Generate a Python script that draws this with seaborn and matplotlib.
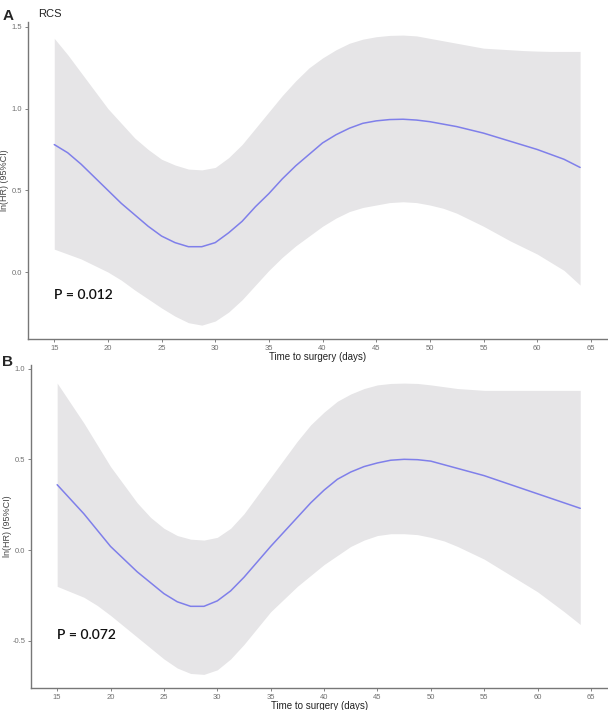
import numpy as np
import pandas as pd
import seaborn as sns
import matplotlib.pyplot as plt

# days, fitted ln(HR) and the 95% CI band
days = [15, 16.25, 17.5, 18.75, 20, 21.25, 22.5, 23.75, 25, 26.25, 27.5, 28.75, 30, 31.25,
        32.5, 33.75, 35, 36.25, 37.5, 38.75, 40, 41.25, 42.5, 43.75, 45, 46.25, 47.5, 48.75,
        50, 51.25, 52.5, 53.75, 55, 56.25, 57.5, 58.75, 60, 61.25, 62.5, 64]

# panel A
a_fit = [0.78, 0.73, 0.66, 0.58, 0.50, 0.42, 0.35, 0.28, 0.22, 0.18, 0.155, 0.155, 0.18, 0.24,
         0.31, 0.40, 0.48, 0.57, 0.65, 0.72, 0.79, 0.84, 0.88, 0.91, 0.925, 0.933, 0.935, 0.93,
         0.92, 0.905, 0.89, 0.87, 0.85, 0.825, 0.80, 0.775, 0.75, 0.72, 0.69, 0.64]
a_upper = [1.43, 1.33, 1.22, 1.11, 1.00, 0.91, 0.82, 0.75, 0.69, 0.655, 0.63, 0.625, 0.64, 0.70,
           0.78, 0.88, 0.98, 1.08, 1.17, 1.25, 1.31, 1.36, 1.40, 1.425, 1.44, 1.448, 1.45, 1.445,
           1.43, 1.415, 1.40, 1.385, 1.37, 1.365, 1.36, 1.355, 1.352, 1.35, 1.35, 1.35]
a_lower = [0.14, 0.11, 0.08, 0.04, 0.00, -0.05, -0.11, -0.165, -0.22, -0.27, -0.31, -0.325, -0.30, -0.245,
           -0.17, -0.08, 0.01, 0.09, 0.16, 0.22, 0.28, 0.33, 0.37, 0.395, 0.41, 0.425, 0.43, 0.425,
           0.41, 0.39, 0.36, 0.32, 0.28, 0.235, 0.19, 0.15, 0.11, 0.06, 0.01, -0.08]

# panel B
b_fit = [0.36, 0.28, 0.20, 0.11, 0.02, -0.05, -0.12, -0.18, -0.24, -0.285, -0.31, -0.31, -0.28, -0.225,
         -0.15, -0.065, 0.02, 0.10, 0.18, 0.26, 0.33, 0.39, 0.43, 0.46, 0.48, 0.495, 0.50, 0.498,
         0.49, 0.47, 0.45, 0.43, 0.41, 0.385, 0.36, 0.335, 0.31, 0.285, 0.26, 0.23]
b_upper = [0.92, 0.81, 0.70, 0.58, 0.46, 0.36, 0.26, 0.18, 0.12, 0.08, 0.06, 0.055, 0.07, 0.12,
           0.20, 0.30, 0.40, 0.50, 0.60, 0.69, 0.76, 0.82, 0.86, 0.89, 0.91, 0.918, 0.92, 0.918,
           0.91, 0.90, 0.89, 0.885, 0.88, 0.88, 0.88, 0.88, 0.88, 0.88, 0.88, 0.88]
b_lower = [-0.20, -0.23, -0.26, -0.305, -0.36, -0.42, -0.48, -0.54, -0.60, -0.65, -0.68, -0.685, -0.66, -0.60,
           -0.52, -0.43, -0.34, -0.27, -0.20, -0.14, -0.08, -0.03, 0.02, 0.055, 0.08, 0.09, 0.09, 0.085,
           0.07, 0.05, 0.02, -0.015, -0.05, -0.095, -0.14, -0.185, -0.23, -0.285, -0.34, -0.41]

x_ticks = [15, 20, 25, 30, 35, 40, 45, 50, 55, 60, 65]
a_yticks = [0.0, 0.5, 1.0, 1.5]
b_yticks = [-0.5, 0.0, 0.5, 1.0]
p_labels = ["P = 0.012", "P = 0.072"]

sns.set_style("ticks")
plt.rcParams['font.family'] = ['Liberation Sans', 'DejaVu Sans']

fig = plt.figure(figsize=(6.08, 7.10), dpi=100)
ax_a = fig.add_axes([0.046, 0.5225, 0.954, 0.4465])
ax_b = fig.add_axes([0.051, 0.031, 0.949, 0.455])

panels = [
    (ax_a, a_fit, a_upper, a_lower, a_yticks, (-0.41, 1.53), -0.14),
    (ax_b, b_fit, b_upper, b_lower, b_yticks, (-0.76, 1.02), -0.47),
]

for i, (ax, fit, up, lo, yt, ylim, p_y) in enumerate(panels):
    df = pd.DataFrame({'day': days, 'fit': fit, 'upper': up, 'lower': lo})
    ax.fill_between(df['day'], df['lower'], df['upper'], color='#e6e5e7', linewidth=0)
    sns.lineplot(data=df, x='day', y='fit', ax=ax, color='#7f7fea', linewidth=1.1)
    ax.set_xlim(12.55, 66.6)
    ax.set_ylim(*ylim)
    ax.set_xticks(x_ticks)
    ax.set_yticks(yt)
    ax.set_yticklabels([f"{v:.1f}" for v in yt])
    ax.tick_params(labelsize=5.5, colors='#6e6e6e', length=2.5, width=0.6, pad=1.5)
    ax.tick_params(labelcolor='#707070')
    for s in ['left', 'bottom']:
        ax.spines[s].set_color('#777777')
        ax.spines[s].set_linewidth(1.0)
    sns.despine(ax=ax)
    ax.set_xlabel('Time to surgery (days)', fontsize=7, color='#222222', labelpad=0)
    ax.set_ylabel('ln(HR) (95%CI)', fontsize=6.5, color='#444444')
    ax.yaxis.set_label_coords(-0.033, 0.5)
    ax.text(15, p_y, p_labels[i], fontsize=10, fontweight='semibold',
            family=['Lato', 'DejaVu Sans'], color='#111111', va='center', ha='left')

fig.text(0.004, 0.988, 'A', fontsize=11, fontweight='bold', va='top')
fig.text(0.062, 0.988, 'RCS', fontsize=8, va='top', color='#222222')
fig.text(0.004, 0.5, 'B', fontsize=11, fontweight='bold', va='top')

fig.savefig('out.png', dpi=100)
